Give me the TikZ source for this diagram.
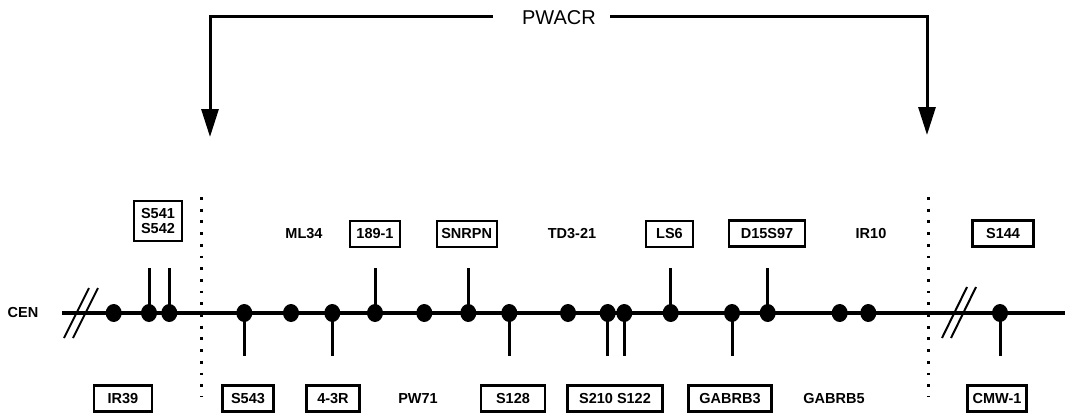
\documentclass[tikz,border=0pt]{standalone}
\usepackage{fontspec}
\setmainfont{Liberation Sans}
\usetikzlibrary{shapes.geometric,arrows.meta}
\begin{document}
\begin{tikzpicture}[x=1pt,y=-1pt,
  lbl/.style={font=\fontsize{14.5}{16}\selectfont\bfseries, inner sep=0pt},
  boxlbl/.style={lbl, draw, line width=2.3pt, minimum height=26pt, align=center},
  dotnode/.style={ellipse, fill=black, inner sep=0pt, minimum width=16pt, minimum height=18pt},
  mainline/.style={line width=3.2pt},
  stemline/.style={line width=3pt},
  slash/.style={line width=2pt},
  dotted line/.style={line width=2.8pt, dash pattern=on 2.8pt off 8.9pt},
  brk/.style={line width=3pt},
  brkarrow/.style={line width=3pt, -{Triangle[width=17pt,length=28pt]}}
]
\useasboundingbox (0,0) rectangle (1065,418);

% bracket
\node[font=\fontsize{20}{22}\selectfont, inner sep=0pt] (pwacr) at (559,18) {PWACR};
\coordinate (bl) at (493,16.5);
\coordinate (br) at (610,16.5);
\coordinate (al) at (210,137);
\coordinate (ar) at (927,135);
\draw[brkarrow] (bl) -| (al);
\draw[brkarrow] (br) -| (ar);

% dotted boundaries
\coordinate (vl1) at (201.7,197);
\coordinate (vl2) at (201.7,397);
\coordinate (vr1) at (928.7,197);
\coordinate (vr2) at (928.7,397);
\draw[dotted line] (vl1) -- (vl2);
\draw[dotted line] (vr1) -- (vr2);

% main chromosome line
\node[lbl] (cen) at (23,313) {CEN};
\coordinate (ls) at (62,313);
\coordinate (le) at (1065,313);
\draw[mainline] (ls) -- (le);

% break marks
\coordinate (s1a) at (64,338);  \coordinate (s1b) at (89,288);
\coordinate (s2a) at (73,338);  \coordinate (s2b) at (98,288);
\coordinate (s3a) at (942,338); \coordinate (s3b) at (967,287);
\coordinate (s4a) at (951,338); \coordinate (s4b) at (976,287);
\draw[slash] (s1a) -- (s1b);
\draw[slash] (s2a) -- (s2b);
\draw[slash] (s3a) -- (s3b);
\draw[slash] (s4a) -- (s4b);

% stems (drawn first)
\foreach \x in {149,169.3,375,468.3,670.7,767.7}{
  \draw[stemline] (\x,313) -- (\x,268);
}
\foreach \x in {244.3,332.3,509.3,607.7,624.3,732,1000}{
  \draw[stemline] (\x,313) -- (\x,356);
}

% dots
\foreach \n/\x in {1/113.7,2/149,3/169.3,4/244.3,5/291,6/332.3,7/375,8/424.3,9/468.3,10/509.3,
                   11/568,12/607.7,13/624.3,14/670.7,15/732,16/767.7,17/839.7,18/868.3,19/1000}{
  \node[dotnode] (d\n) at (\x,313) {};
}

% top labels
\node[boxlbl, minimum width=48pt, minimum height=40pt] (s541) at (158,221) {S541\\[-1pt]S542};
\node[lbl] (ml34) at (304,234) {ML34};
\node[boxlbl, minimum width=50pt] (b189) at (375,234) {189-1};
\node[boxlbl, minimum width=60pt] (snrpn) at (466.7,234) {SNRPN};
\node[lbl] (td321) at (572,234) {TD3-21};
\node[boxlbl, minimum width=47pt] (ls6) at (669.5,234) {LS6};
\node[boxlbl, minimum width=76pt] (d15) at (767,233.5) {D15S97};
\node[lbl] (ir10) at (871,234) {IR10};
\node[boxlbl, minimum width=61pt] (s144) at (1003,233.5) {S144};

% bottom labels
\node[boxlbl, minimum width=58pt] (ir39) at (123,398.5) {IR39};
\node[boxlbl, minimum width=51pt] (s543) at (248,398.5) {S543};
\node[boxlbl, minimum width=53pt] (r43) at (333,398.5) {4-3R};
\node[lbl] (pw71) at (418,398.5) {PW71};
\node[boxlbl, minimum width=64pt] (s128) at (513,398.5) {S128};
\node[boxlbl, minimum width=95pt] (s210) at (615,398.5) {S210 S122};
\node[boxlbl, minimum width=83pt] (gab3) at (730,398.5) {GABRB3};
\node[lbl] (gab5) at (834,398.5) {GABRB5};
\node[boxlbl, minimum width=59pt] (cmw) at (997,398.5) {CMW-1};
\end{tikzpicture}
\end{document}
